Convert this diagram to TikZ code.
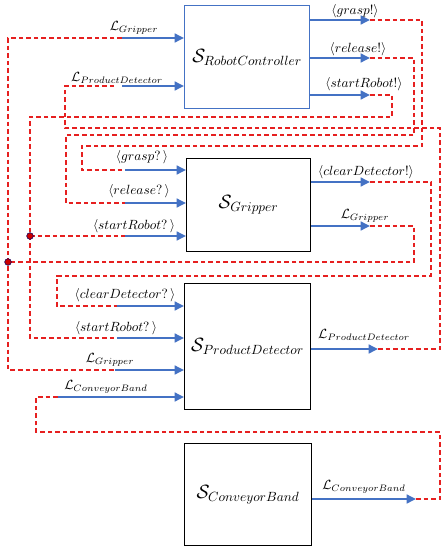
\documentclass[tikz,border=0pt]{standalone}
\usetikzlibrary{arrows.meta}
\definecolor{arrblue}{RGB}{68,114,196}
\definecolor{dashred}{RGB}{230,32,32}
\begin{document}
\begin{tikzpicture}[x=0.75pt,y=-0.75pt,
  box/.style={draw=black, line width=0.9pt, inner sep=0pt, anchor=north west, font=\fontsize{14}{16}\selectfont},
  sig/.style={draw=arrblue, line width=2.2pt, -{Triangle[length=7pt,width=6.5pt]}},
  wire/.style={draw=dashred, line width=0.9pt, dash pattern=on 3.5pt off 2.2pt},
  lbl/.style={inner sep=0pt, font=\fontsize{10}{12}\selectfont},
  junction/.style={circle, fill=red!80!black, draw=blue!40!black, line width=0.4pt, inner sep=0pt, minimum size=5pt}]
\useasboundingbox (0,0) rectangle (446,550);

% boxes
\node[box, draw=arrblue, minimum width=93.75pt, minimum height=77.25pt] (rc) at (184,5) {$\mathcal{S}_{RobotController}$};
\node[box, minimum width=93pt, minimum height=69.75pt] (gr) at (186,158) {$\mathcal{S}_{Gripper}$};
\node[box, minimum width=94.5pt, minimum height=94.5pt] (pd) at (184,283) {$\mathcal{S}_{ProductDetector}$};
\node[box, minimum width=95.25pt, minimum height=76.5pt] (cb) at (184,443) {$\mathcal{S}_{ConveyorBand}$};

% coordinates
\coordinate (rcI1) at (122,38);
\coordinate (rcI2) at (122,86);
\coordinate (rcW2) at (117,86);
\coordinate (rcO1) at (370,20);
\coordinate (rcO2) at (370,58);
\coordinate (rcO3) at (370,95);
\coordinate (grI1) at (125,170);
\coordinate (grI2) at (125,203);
\coordinate (grI3) at (125,236);
\coordinate (grO1) at (370,182);
\coordinate (grO2) at (370,226);
\coordinate (pdI1) at (117,306);
\coordinate (pdI2) at (117,338);
\coordinate (pdI3) at (115,370);
\coordinate (pdI4) at (58,397);
\coordinate (pdO) at (378,349);
\coordinate (cbO) at (416,499);

% dashed wires
\draw[wire] (rcO1) -| (422,146) -| (82,170) -- (grI1);
\draw[wire] (rcO2) -| (414,135) -| (66,203) -- (grI2);
\draw[wire] (rcO3) -| (392,117) -| (30,338) -- (pdI2);
\draw[wire] (30,236) -- (grI3);
\draw[wire] (pdO) -| (440,128) -| (65,86) -- (rcW2);
\draw[wire] (grO1) -| (431,276) -| (57,306) -- (pdI1);
\draw[wire] (grO2) -| (414,262) -- (8,262);
\draw[wire] (rcI1) -| (8,370) -- (pdI3);
\draw[wire] (cbO) -| (440,432) -| (36,397) -- (pdI4);

% blue arrows
\draw[sig] (rcI1) -- (rcI1 -| rc.west);
\draw[sig] (rcI2) -- (rcI2 -| rc.west);
\draw[sig] (rcO1 -| rc.east) -- (rcO1);
\draw[sig] (rcO2 -| rc.east) -- (rcO2);
\draw[sig] (rcO3 -| rc.east) -- (rcO3);
\draw[sig] (grI1) -- (grI1 -| gr.west);
\draw[sig] (grI2) -- (grI2 -| gr.west);
\draw[sig] (grI3) -- (grI3 -| gr.west);
\draw[sig] (grO1 -| gr.east) -- (grO1);
\draw[sig] (grO2 -| gr.east) -- (grO2);
\draw[sig] (pdI1) -- (pdI1 -| pd.west);
\draw[sig] (pdI2) -- (pdI2 -| pd.west);
\draw[sig] (pdI3) -- (pdI3 -| pd.west);
\draw[sig] (pdI4) -- (pdI4 -| pd.west);
\draw[sig] (pdO -| pd.east) -- (pdO);
\draw[sig] (cbO -| cb.east) -- (cbO);

% junctions
\node[junction] (j1) at (30,236) {};
\node[junction] (j2) at (8,262) {};

% labels
\node[lbl] (l1) at (134,28) {$\mathcal{L}_{Gripper}$};
\node[lbl] (l2) at (117,78) {$\mathcal{L}_{ProductDetector}$};
\node[lbl] (l3) at (355,11) {$\langle grasp!\rangle$};
\node[lbl] (l4) at (358,49) {$\langle release!\rangle$};
\node[lbl] (l5) at (364,84) {$\langle startRobot!\rangle$};
\node[lbl] (l6) at (142,157) {$\langle grasp?\,\rangle$};
\node[lbl] (l7) at (139,191) {$\langle release?\,\rangle$};
\node[lbl] (l8) at (134,226) {$\langle startRobot?\,\rangle$};
\node[lbl] (l9) at (366,172) {$\langle clearDetector!\rangle$};
\node[lbl] (l10) at (365,216) {$\mathcal{L}_{Gripper}$};
\node[lbl] (l11) at (125,295) {$\langle clearDetector?\,\rangle$};
\node[lbl] (l12) at (116,328) {$\langle startRobot?\,\rangle$};
\node[lbl] (l13) at (110,360) {$\mathcal{L}_{Gripper}$};
\node[lbl] (l14) at (106,387) {$\mathcal{L}_{ConveyorBand}$};
\node[lbl] (l15) at (364,335) {$\mathcal{L}_{ProductDetector}$};
\node[lbl] (l16) at (364,487) {$\mathcal{L}_{ConveyorBand}$};
\end{tikzpicture}
\end{document}
